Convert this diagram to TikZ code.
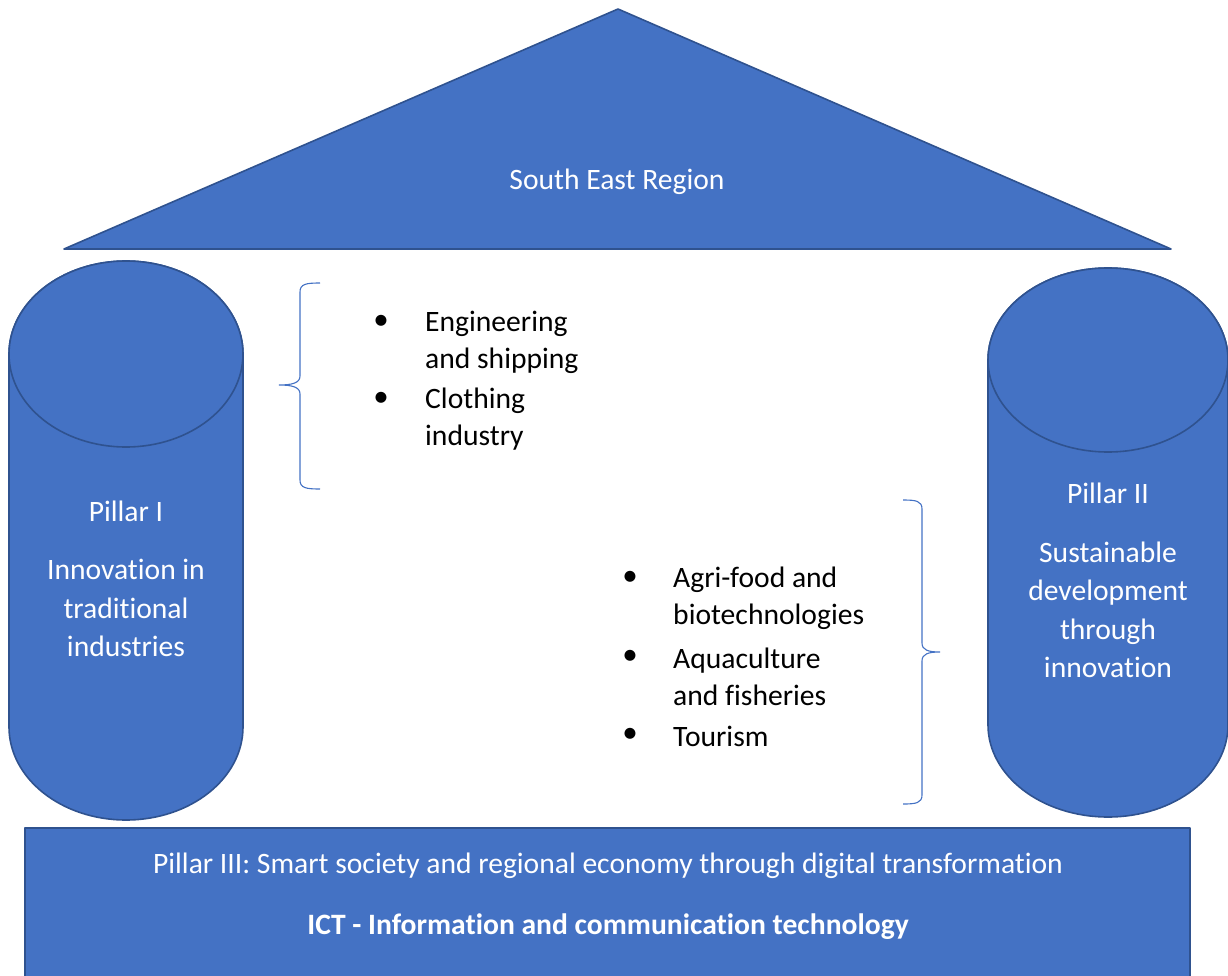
\documentclass[tikz,border=0pt]{standalone}
\usepackage{fontspec}
\setmainfont{Carlito}[Ligatures=NoCommon]
\tikzset{
  x=1pt,y=-1pt,
  shapefill/.style={fill=blue1,draw=blue2,line width=1.6pt,line join=round},
  wtext/.style={text=white,font=\fontsize{29.6}{38.5}\selectfont,align=center,inner sep=0pt},
  btext/.style={text=black,font=\fontsize{29.6}{37}\selectfont,align=left,anchor=west,inner sep=0pt},
  bul/.style={text=black,font=\fontsize{31}{37}\selectfont,inner sep=0pt},
  bracestyle/.style={draw=blue1,line width=1.1pt}
}
\definecolor{blue1}{HTML}{4472C4}
\definecolor{blue2}{HTML}{2F528F}
\begin{document}
\begin{tikzpicture}
\useasboundingbox (0,0) rectangle (1228,976);
% roof
\draw[shapefill] (618,9) -- (1171,249) -- (64,249) -- cycle;
\node[wtext] (roof) at (617,182) {South East Region};
% left cylinder
\draw[shapefill] (9,354) -- (9,727) arc[start angle=180,end angle=0,x radius=117,y radius=93] -- (243,354)
  arc[start angle=0,end angle=-180,x radius=117,y radius=93] -- cycle;
\draw[shapefill] (126,354) ellipse[x radius=117,y radius=93];
\node[wtext] (p1a) at (126,511) {Pillar I};
\node[wtext] (p1b) at (126,608) {Innovation in\\traditional\\industries};
% right cylinder
\draw[shapefill] (988,360) -- (988,725) arc[start angle=180,end angle=0,x radius=120,y radius=92] -- (1228,360)
  arc[start angle=0,end angle=-180,x radius=120,y radius=92] -- cycle;
\draw[shapefill] (1108,360) ellipse[x radius=120,y radius=92];
\node[wtext] (p2a) at (1108,493) {Pillar II};
\node[wtext] (p2b) at (1108,610) {Sustainable\\development\\through\\innovation};
% base
\draw[shapefill] (25,828) rectangle (1190,990);
\node[wtext] (p3) at (608,866) {Pillar III: Smart society and regional economy through digital transformation};
\node[wtext,font=\fontsize{29.6}{37}\selectfont\bfseries] (ict) at (608,927) {ICT - Information and communication technology};
% left brace
\draw[bracestyle] (320,283) .. controls (306,283) and (300,284) .. (300,292) -- (300,376)
  .. controls (300,383) and (292,385) .. (279,385) .. controls (292,385) and (300,387) .. (300,394)
  -- (300,480) .. controls (300,488) and (306,489) .. (320,489);
% right brace
\draw[bracestyle] (903,500) .. controls (916,500) and (922,501) .. (922,509) -- (922,643)
  .. controls (922,650) and (928,652) .. (940,652) .. controls (928,652) and (922,654) .. (922,661)
  -- (922,795) .. controls (922,803) and (916,804) .. (903,804);
% left list
\node[bul] (b1) at (381,322) {•};
\node[btext] (l1) at (425,342) {Engineering\\and shipping};
\node[bul] (b2) at (381,399) {•};
\node[btext] (l2) at (425,419) {Clothing\\industry};
% right list
\node[bul] (b3) at (630,578) {•};
\node[btext] (r1) at (673,598) {Agri-food and\\biotechnologies};
\node[bul] (b4) at (630,657) {•};
\node[btext] (r2) at (673,677) {Aquaculture\\and fisheries};
\node[bul] (b5) at (630,735) {•};
\node[btext] (r3) at (673,736) {Tourism};
\end{tikzpicture}
\end{document}
